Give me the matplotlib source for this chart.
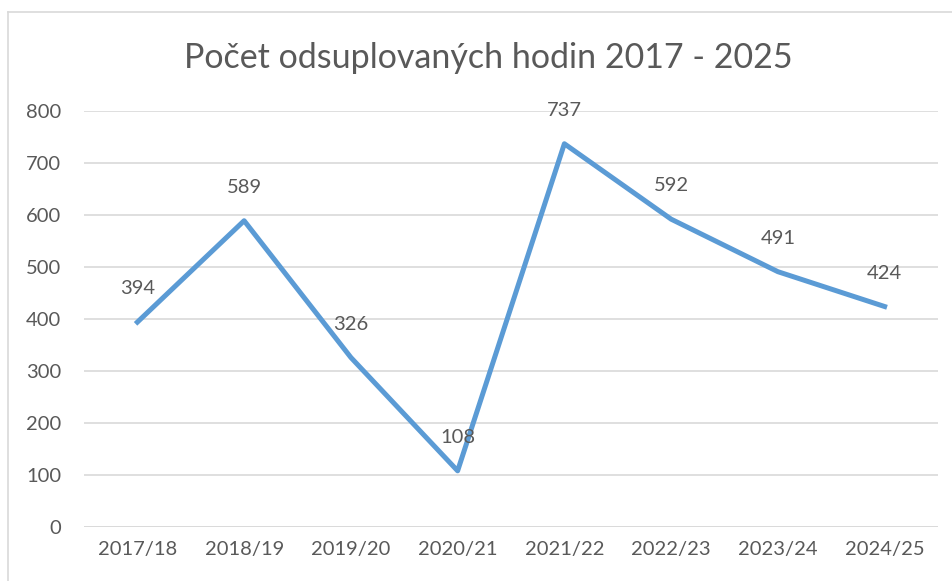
import matplotlib
matplotlib.use("Agg")
import matplotlib.pyplot as plt
from matplotlib.lines import Line2D

categories = ["2017/18", "2018/19", "2019/20", "2020/21", "2021/22", "2022/23", "2023/24", "2024/25"]
values = [394, 589, 326, 108, 737, 592, 491, 424]
title = "Počet odsuplovaných hodin 2017 - 2025"

plt.rcParams['font.family'] = ['Lato', 'DejaVu Sans']
txt = "#595959"

W, H = 953, 581
fig = plt.figure(figsize=(W/100, H/100), dpi=100)
left, right = 84/W, 938/W
bottom, top = 1 - 527/H, 1 - 111/H
ax = fig.add_axes([left, bottom, right-left, top-bottom])

x = list(range(len(categories)))
ax.plot(x, values, color="#5B9BD5", lw=3.6, solid_joinstyle="round", zorder=3)
for xi, v in zip(x, values):
    ax.annotate(str(v), (xi, v), xytext=(0, 24), textcoords="offset points",
                ha="center", va="center", fontsize=14.5, color=txt, zorder=4)

ax.set_xlim(-0.5, len(categories)-0.5)
ax.set_ylim(0, 800)
ax.set_yticks(range(0, 801, 100))
ax.set_xticks(x)
ax.set_xticklabels(categories)
ax.tick_params(axis="both", length=0, labelsize=14.5, labelcolor=txt)
ax.tick_params(axis="y", pad=16.5)
ax.tick_params(axis="x", pad=10)
ax.grid(axis="y", color="#D9D9D9", lw=1.2)
ax.set_axisbelow(True)
for s in ax.spines.values():
    s.set_visible(False)
ax.axhline(0, color="#D9D9D9", lw=1.2, zorder=1)

fig.text(488/W, 1 - 58/H, title, ha="center", va="center", fontsize=24.5, color=txt)

# outer chart border
fig.add_artist(Line2D([8/W, 1], [1-12/H, 1-12/H], color="#D9D9D9", lw=1.2, transform=fig.transFigure))
fig.add_artist(Line2D([8/W, 8/W], [0, 1-12/H], color="#D9D9D9", lw=1.2, transform=fig.transFigure))

fig.savefig("out.png", dpi=100)
